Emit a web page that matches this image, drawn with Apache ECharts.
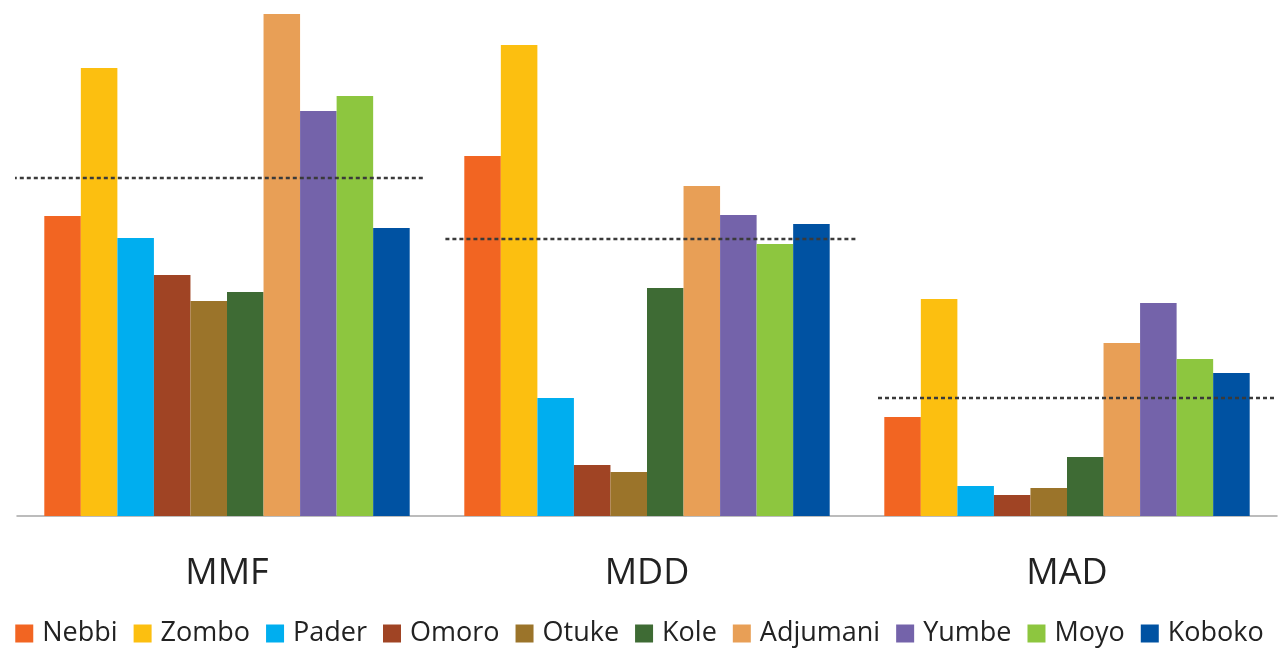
<!DOCTYPE html>
<html>
<head>
<meta charset="utf-8">
<script src="https://cdn.jsdelivr.net/npm/echarts@6/dist/echarts.min.js"></script>
<style>
  html, body { margin: 0; padding: 0; background: #fff; }
  #chart { width: 1279px; height: 652px; }
</style>
</head>
<body>
<div id="chart"></div>
<script>
// 指标类别
const categories = ['MMF', 'MDD', 'MAD'];
// 各地区名称与颜色
const districts = ['Nebbi', 'Zombo', 'Pader', 'Omoro', 'Otuke', 'Kole', 'Adjumani', 'Yumbe', 'Moyo', 'Koboko'];
const colors = ['#F26522', '#FCBF10', '#00AEEF', '#A04424', '#9B742A', '#3E6B34', '#E89F56', '#7463AA', '#8DC63F', '#0052A2'];
// 每个地区在 MMF / MDD / MAD 上的数值
const nebbi    = [30.0, 36.0, 9.9];
const zombo    = [44.8, 47.1, 21.7];
const pader    = [27.8, 11.8, 3.0];
const omoro    = [24.1, 5.1, 2.1];
const otuke    = [21.5, 4.4, 2.8];
const kole     = [22.4, 22.8, 5.9];
const adjumani = [50.2, 33.0, 17.3];
const yumbe    = [40.5, 30.1, 21.3];
const moyo     = [42.0, 27.2, 15.7];
const koboko   = [28.8, 29.2, 14.3];
// 平均值（虚线）
const averages = [33.8, 27.7, 11.8];

const values = [nebbi, zombo, pader, omoro, otuke, kole, adjumani, yumbe, moyo, koboko];

// 虚线相对类别中心的左右范围（以类别宽度为单位）
const avgLineLeft = [-0.51, -0.48, -0.45];
const avgLineRight = [0.47, 0.50, 0.5];

document.addEventListener('DOMContentLoaded', function() {
    const chart = echarts.init(document.getElementById('chart'));
    const font = 'Open Sans';

    const barSeries = districts.map(function(name, i) {
        return {
            name: name,
            type: 'bar',
            data: values[i],
            barGap: '0%',
            barCategoryGap: '13%',
            itemStyle: { color: colors[i] },
            silent: true
        };
    });

    // 平均值虚线，画在辅助数值轴上
    const avgSeries = averages.map(function(v, i) {
        return {
            type: 'line',
            xAxisIndex: 1,
            data: [[i + avgLineLeft[i], v], [i + avgLineRight[i], v]],
            symbol: 'none',
            clip: false,
            lineStyle: { color: '#3a3a3a', width: 2.5, type: [4, 3] },
            silent: true,
            z: 5
        };
    });

    const option = {
        animation: false,
        color: colors,
        grid: { left: 17, right: 2, top: 0, bottom: 136 },
        legend: {
            data: districts,
            bottom: 0,
            left: 'center',
            icon: 'rect',
            itemWidth: 18,
            itemHeight: 18,
            itemGap: 16,
            textStyle: { fontFamily: font, fontSize: 27, color: '#222', padding: [0, 0, 0, 4] },
            selectedMode: false
        },
        xAxis: [
            {
                type: 'category',
                data: categories,
                axisTick: { show: false },
                axisLine: { lineStyle: { color: '#A6A6A6', width: 1.5 } },
                axisLabel: { fontFamily: font, fontSize: 36, color: '#222', margin: 40 }
            },
            {
                type: 'value',
                min: -0.5,
                max: 2.5,
                show: false
            }
        ],
        yAxis: {
            type: 'value',
            min: 0,
            max: 51.6,
            show: false,
            splitLine: { show: false }
        },
        series: barSeries.concat(avgSeries)
    };

    chart.setOption(option);
});
</script>
</body>
</html>
